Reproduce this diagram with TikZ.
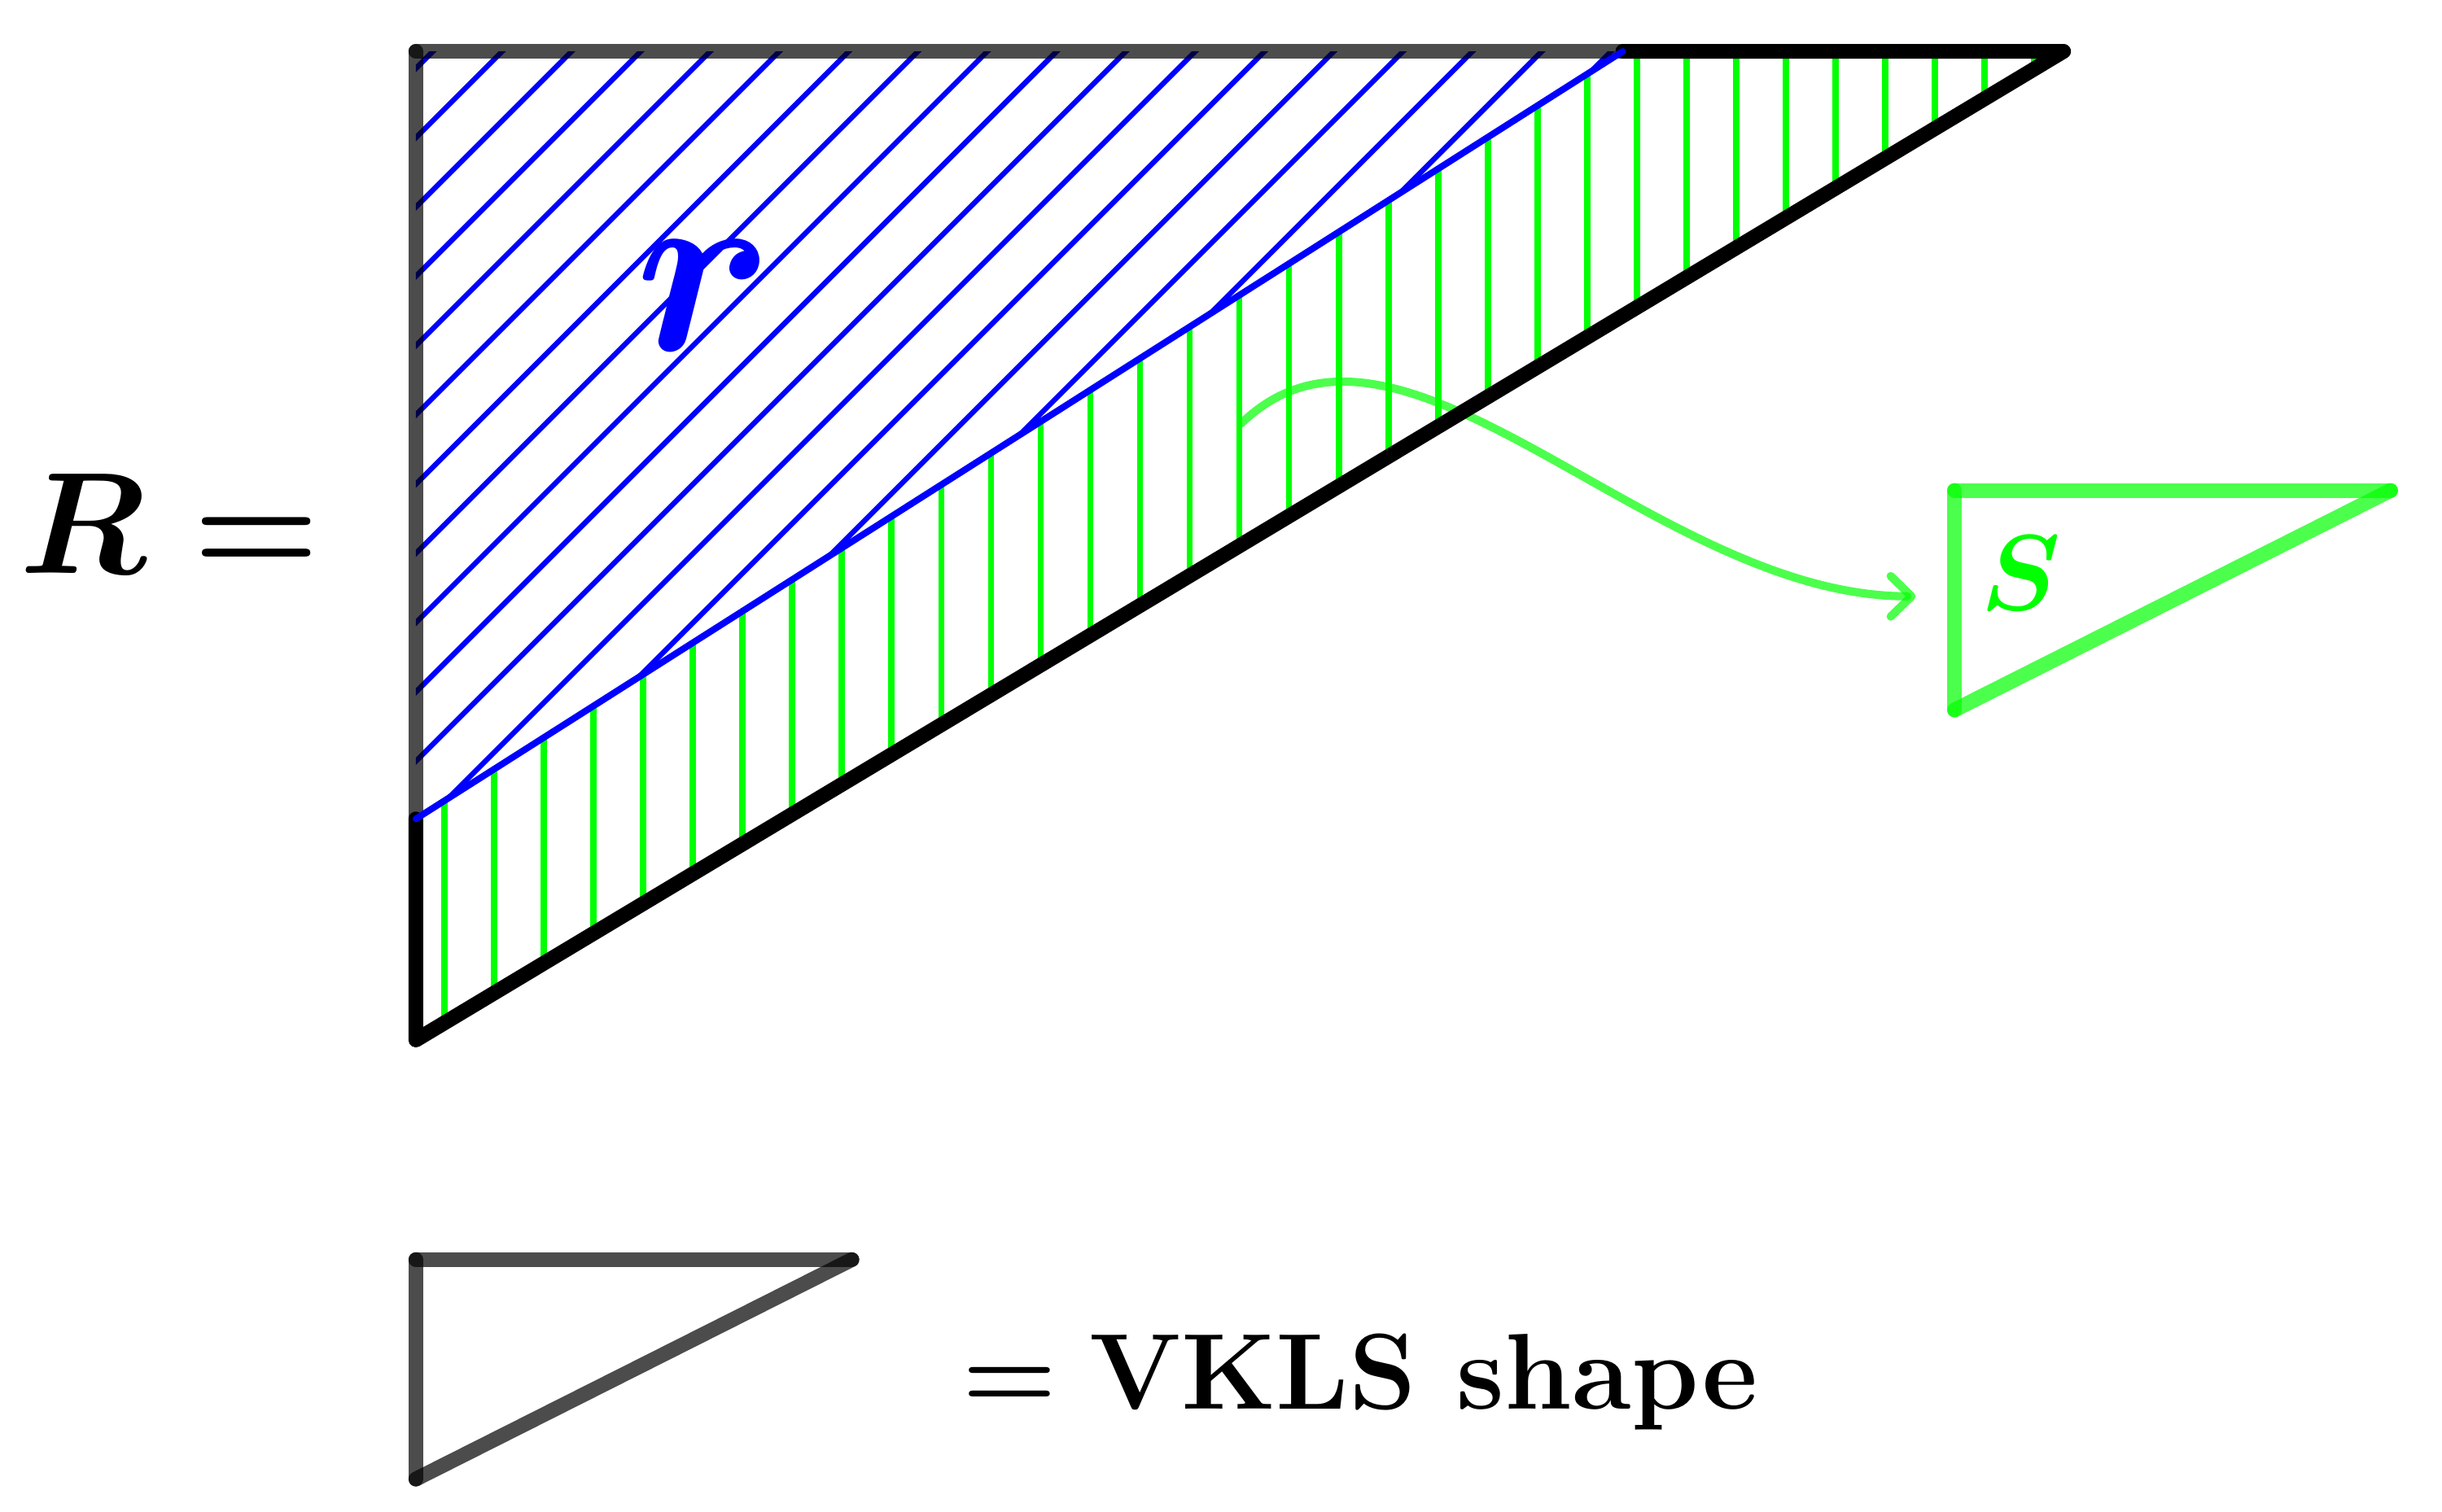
\RequirePackage{fix-cm}
\documentclass[tikz,border=0pt]{standalone}
\usepackage{amsmath}
\usetikzlibrary{arrows.meta}
\begin{document}
\begin{tikzpicture}[x=0.01cm,y=-0.01cm,
  edge/.style={line width=2.7pt, line cap=round, line join=round},
  grayedge/.style={edge, draw=black, draw opacity=0.7},
  greenedge/.style={edge, draw=green, draw opacity=0.7},
  greenhatch/.style={draw=green, line width=1.15pt},
  bluehatch/.style={draw=blue, line width=0.95pt},
  lbl/.style={anchor=base west, inner sep=0pt, outer sep=0pt}]
\useasboundingbox (0,0) rectangle (1568,971);
% big shape R
\coordinate (A) at (267,33);
\coordinate (Q) at (1042,33);
\coordinate (B) at (1325,33);
\coordinate (C) at (267,668);
\coordinate (P) at (267,526);
% green vertical hatching
\begin{scope}
  \clip (P) -- (Q) -- (B) -- (C) -- cycle;
  \foreach \i in {0,...,32}
    \draw[greenhatch] ({285.4+31.9*\i},0) -- ({285.4+31.9*\i},700);
\end{scope}
% blue diagonal hatching
\begin{scope}
  \clip (A) -- (Q) -- (P) -- cycle;
  \foreach \k in {0,...,17}
    \draw[bluehatch] ({311+44.5*\k},0) -- ({311+44.5*\k-700},700);
\end{scope}
% arrow to S
\coordinate (a0) at (797,272);
\coordinate (a1) at (1230,383);
\draw[draw=green, draw opacity=0.7, line width=1.5pt, line cap=round,
      -{Straight Barb[length=3.8pt,width=7.4pt,round]}]
  (a0) .. controls (900,172) and (1060,383) .. (a1);
% edges
\draw[edge] (Q) -- (B) -- (C) -- (P);
\draw[grayedge] (A) -- (Q);
\draw[grayedge] (A) -- (P);
\draw[blue, line width=1.2pt, line cap=round] (P) -- (Q);
% labels
\node[lbl, text=blue, font=\fontsize{45}{50}\selectfont\boldmath] (rlab) at (408,225) {$r$};
\node[lbl, font=\fontsize{26.4}{30}\selectfont\boldmath] (Rlab) at (13,368) {$R =$};
% small S triangle
\coordinate (S1) at (1255,315);
\coordinate (S2) at (1535,315);
\coordinate (S3) at (1255,456);
\draw[greenedge] (S1) -- (S2);
\draw[greenedge] (S2) -- (S3);
\draw[greenedge] (S3) -- (S1);
\node[lbl, text=green, font=\fontsize{19.6}{22}\selectfont\boldmath] (Slab) at (1272,392) {$S$};
% legend
\coordinate (L1) at (267,809);
\coordinate (L2) at (547,809);
\coordinate (L3) at (267,950);
\draw[grayedge] (L1) -- (L2);
\draw[grayedge] (L2) -- (L3);
\draw[grayedge] (L3) -- (L1);
\node[lbl, font=\fontsize{19.7}{22}\selectfont] (leg) at (618,905) {{\boldmath$=$} \textbf{VKLS shape}};
\end{tikzpicture}
\end{document}
